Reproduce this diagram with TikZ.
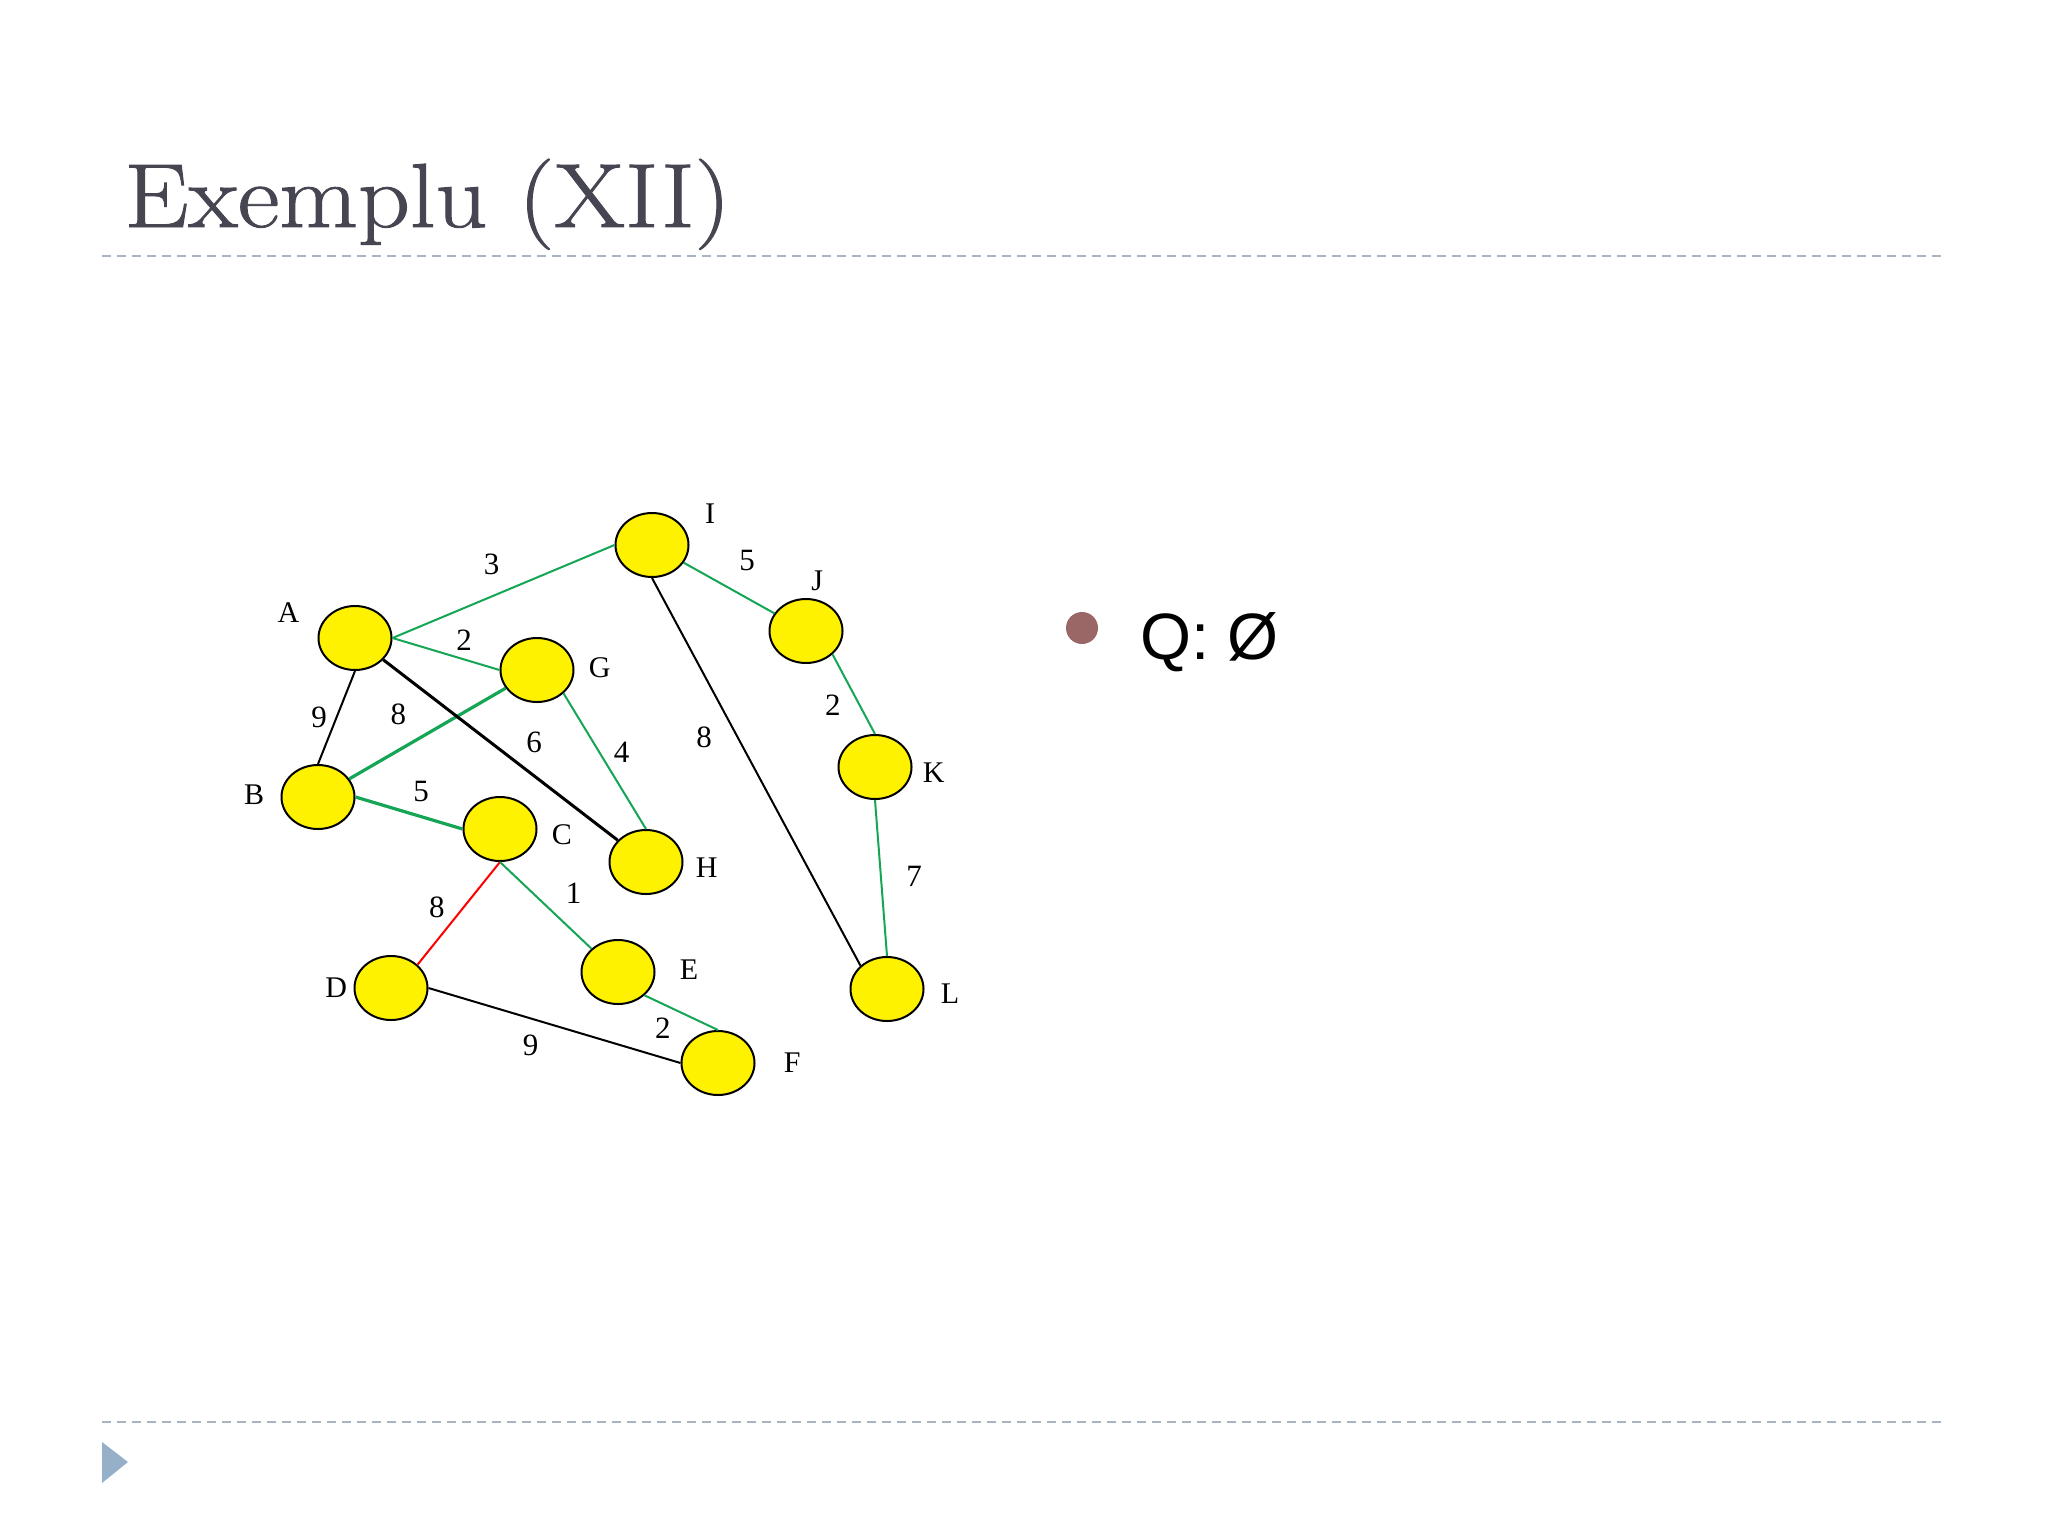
\documentclass[tikz,border=0pt]{standalone}
\usepackage{fontspec}
\setmainfont{Liberation Serif}
\newfontfamily\qfont{Liberation Sans}
\newfontfamily\titlefont[FakeBold=1]{Latin Modern Roman}
\usepackage{tikz}
\usetikzlibrary{shapes.geometric,positioning}

\definecolor{titlegray}{RGB}{70,70,82}
\definecolor{rulegray}{RGB}{168,180,194}
\definecolor{tribleu}{RGB}{150,176,202}
\definecolor{dotred}{RGB}{154,102,102}
\definecolor{treegreen}{RGB}{20,165,85}

\begin{document}
\begin{tikzpicture}[x=0.5pt,y=-0.5pt,auto,
    vertex/.style={ellipse,draw=black,line width=1pt,fill=yellow,
        minimum width=36.5pt,minimum height=32pt,inner sep=0pt},
    every label/.style={inner sep=0pt,font=\fontsize{15}{15}\selectfont},
    wt/.style={inner sep=4pt,text=black,font=\fontsize{15.5}{15.5}\selectfont},
    tree/.style={treegreen,line width=1pt},
    treethick/.style={treegreen,line width=1.6pt},
    rest/.style={black,line width=1pt},
    restthick/.style={black,line width=1.5pt},
    cut/.style={red,line width=1pt},
    slideline/.style={rulegray,line width=1.2pt,dash pattern=on 4.5pt off 3pt}]
    \useasboundingbox (0,0) rectangle (2048,1536);
    \fill[white] (0,0) rectangle (2048,1536);

    % slide frame
    \node[anchor=base west,inner sep=0pt,text=titlegray,xscale=1.12,
        font=\titlefont\fontsize{45.5}{45.5}\selectfont] (title) at (124,227) {Exemplu (XII)};
    \draw[slideline] (102,256) -- (1946,256);
    \draw[slideline] (102,1422) -- (1946,1422);
    \fill[tribleu] (102,1442) -- (128,1462) -- (102,1483) -- cycle;

    % graph
    \node[vertex,label={[label distance=10pt]165:A}] (A) at (355,638) {};
    \node[vertex,label={[label distance=8pt]178:B}] (B) at (318,797) {};
    \node[vertex,label={[label distance=7pt,yshift=-3pt]0:C}] (C) at (500,829) {};
    \node[vertex,label={[label distance=3pt]180:D}] (D) at (391,988) {};
    \node[vertex,label={[label distance=12pt,yshift=1pt]0:E}] (E) at (618,972) {};
    \node[vertex,label={[label distance=14pt]0:F}] (F) at (718,1063) {};
    \node[vertex,label={[label distance=7pt]2:G}] (G) at (537,670) {};
    \node[vertex,label={[label distance=6pt,yshift=-3pt]0:H}] (H) at (646,862) {};
    \node[vertex,label={[label distance=10pt]22:I}] (I) at (652,545) {};
    \node[vertex,label={[label distance=3.5pt]83:J}] (J) at (806,631) {};
    \node[vertex,label={[label distance=5pt,yshift=-3pt]0:K}] (K) at (875,767) {};
    \node[vertex,label={[label distance=8pt,yshift=-2.5pt]0:L}] (L) at (887,989) {};

    \path
    (A.east) edge[tree] node[wt,pos=0.54,inner sep=6pt] {3} (I.west)
    (A.east) edge[tree] node[wt,pos=0.55,inner sep=2pt] {2} (G.west)
    (A.south) edge[rest] node[wt,swap,pos=0.65,inner sep=1.5pt] {9} (B.north)
    (B) edge[treethick] node[wt,pos=0.45,inner sep=6pt] {8} (G)
    (A) edge[restthick] node[wt,pos=0.57] {6} (H)
    (G.south east) edge[tree] node[wt,pos=0.55,inner sep=2pt] {4} (H.north)
    (I.south) edge[rest] node[wt,swap,pos=0.35,inner sep=6pt] {8} (L.north west)
    (B.east) edge[treethick] node[wt,pos=0.45] {5} (C.west)
    (I) edge[tree] node[wt,pos=0.45,inner sep=7pt] {5} (J)
    (J.south east) edge[tree] node[wt,swap,pos=0.4] {2} (K.north)
    (K.south) edge[tree] node[wt,pos=0.7,inner sep=11pt] {7} (L.north)
    (C.south) edge[cut] node[wt,swap,pos=0.6,inner sep=2.5pt] {8} (D.north east)
    (C.south) edge[tree] node[wt,pos=0.6,inner sep=5pt] {1} (E.north west)
    (E.south east) edge[tree] node[wt,swap,pos=0.45,inner sep=3pt] {2} (F.north)
    (D.east) edge[rest] node[wt,swap,pos=0.48,inner sep=5pt] {9} (F.west)
    ;

    % queue
    \node[circle,fill=dotred,minimum size=16pt,inner sep=0pt] (dot) at (1082,628) {};
    \node[anchor=base west,inner sep=0pt,font=\qfont\fontsize{32.8}{32.8}\selectfont]
        (queue) at (1140,659) {Q: Ø};
\end{tikzpicture}
\end{document}
